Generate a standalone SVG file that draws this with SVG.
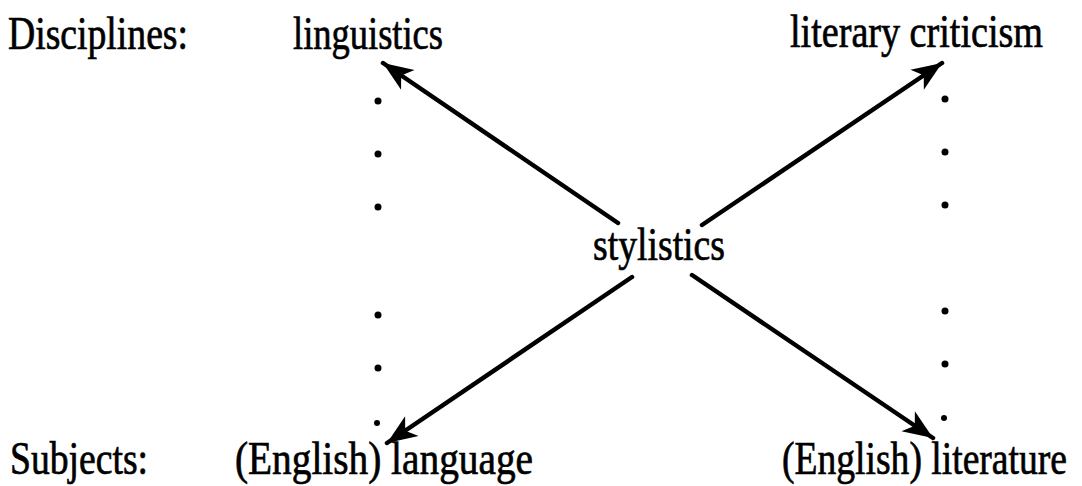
<svg xmlns="http://www.w3.org/2000/svg" width="1082" height="486" viewBox="0 0 1082 486">
<style>
.t{font-family:"Liberation Serif","Times New Roman",serif;font-size:46px;fill:#000;stroke:#000;stroke-width:0.7;}
.c{stroke:#000;stroke-width:4.5;fill:none;stroke-linecap:round;}
.d{fill:#000;}
</style>
<defs>
<marker id="ah" markerUnits="userSpaceOnUse" markerWidth="40" markerHeight="30" viewBox="-32 -15 34 30" refX="0" refY="0" orient="auto">
<path d="M0,0 L-30,-12 L-22,0 L-30,12 Z" fill="#000"/>
</marker>
</defs>
<rect width="1082" height="486" fill="#fff"/>
<g id="label-disciplines"><text class="t" x="8" y="49" textLength="180" lengthAdjust="spacingAndGlyphs">Disciplines:</text></g>
<g id="label-subjects"><text class="t" x="10" y="474" textLength="138" lengthAdjust="spacingAndGlyphs">Subjects:</text></g>
<g id="node-linguistics"><text class="t" x="293" y="49" textLength="150" lengthAdjust="spacingAndGlyphs">linguistics</text></g>
<g id="node-literary-criticism"><text class="t" x="790" y="47" textLength="253" lengthAdjust="spacingAndGlyphs">literary criticism</text></g>
<g id="node-stylistics"><text class="t" x="593" y="260" textLength="132" lengthAdjust="spacingAndGlyphs">stylistics</text></g>
<g id="node-language"><text class="t" x="235" y="474" textLength="298" lengthAdjust="spacingAndGlyphs">(English) language</text></g>
<g id="node-literature"><text class="t" x="782" y="474" textLength="285" lengthAdjust="spacingAndGlyphs">(English) literature</text></g>
<g id="dots-left">
<circle class="d" cx="378" cy="101" r="3.5"/><circle class="d" cx="378" cy="154" r="3.5"/><circle class="d" cx="378" cy="207" r="3.5"/>
<circle class="d" cx="378" cy="315" r="3.5"/><circle class="d" cx="378" cy="368" r="3.5"/><circle class="d" cx="377" cy="423" r="3"/>
</g>
<g id="dots-right">
<circle class="d" cx="945" cy="99" r="3.5"/><circle class="d" cx="945" cy="152" r="3.5"/><circle class="d" cx="945" cy="205" r="3.5"/>
<circle class="d" cx="945" cy="311" r="3.5"/><circle class="d" cx="945" cy="364" r="3.5"/><circle class="d" cx="944" cy="418" r="3"/>
</g>
<g id="connectors">
<line class="c" x1="618" y1="223" x2="383" y2="63" marker-end="url(#ah)"/>
<line class="c" x1="702" y1="225" x2="942" y2="63" marker-end="url(#ah)"/>
<line class="c" x1="632" y1="277" x2="387" y2="443" marker-end="url(#ah)"/>
<line class="c" x1="692" y1="275" x2="933" y2="438" marker-end="url(#ah)"/>
</g>
</svg>
